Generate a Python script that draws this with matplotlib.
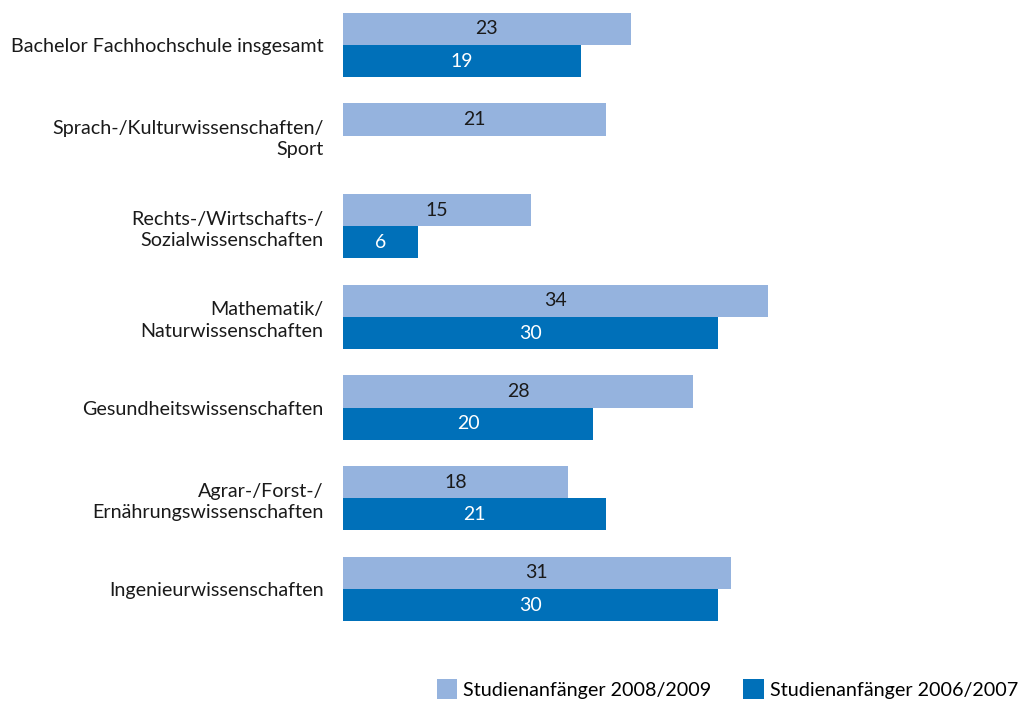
import matplotlib
matplotlib.use("Agg")
import matplotlib.pyplot as plt
import numpy as np

# Daten
categories = [
    "Bachelor Fachhochschule insgesamt",
    "Sprach-/Kulturwissenschaften/\nSport",
    "Rechts-/Wirtschafts-/\nSozialwissenschaften",
    "Mathematik/\nNaturwissenschaften",
    "Gesundheitswissenschaften",
    "Agrar-/Forst-/\nErnährungswissenschaften",
    "Ingenieurwissenschaften",
]
values_2008 = [23, 21, 15, 34, 28, 18, 31]
values_2006 = [19, np.nan, 6, 30, 20, 21, 30]
labels = ["Studienanfänger 2008/2009", "Studienanfänger 2006/2007"]

light = "#95b3de"
dark = "#0070b9"

plt.rcParams['font.family'] = ['Lato', 'DejaVu Sans']

fig = plt.figure(figsize=(10.18, 7.03), dpi=100)
ax = fig.add_axes([343 / 1018, 1 - 640 / 703, 1 - 343 / 1018, 640 / 703])

y = np.arange(len(categories))
h = 0.355

ax.barh(y - h / 2, values_2008, height=h, color=light, label=labels[0])
ax.barh(y + h / 2, values_2006, height=h, color=dark, label=labels[1])

for i, (a, b) in enumerate(zip(values_2008, values_2006)):
    ax.text(a / 2, i - h / 2, str(a), ha='center', va='center', fontsize=14, color='#1a1a1a')
    if not np.isnan(b):
        ax.text(b / 2, i + h / 2, str(int(b)), ha='center', va='center', fontsize=14, color='white')

ax.set_xlim(0, 54)
ax.set_ylim(6.563, -0.496)
ax.set_yticks(y)
ax.set_yticklabels(categories, fontsize=14.2, linespacing=1.3, color='#1a1a1a')
ax.set_xticks([])
ax.tick_params(axis='y', length=0, pad=14)
for s in ax.spines.values():
    s.set_visible(False)

fig.legend(loc='lower right', bbox_to_anchor=(1.0, 0.006), ncol=2, frameon=False,
           fontsize=14.2, handlelength=1.05, handleheight=1.15, handletextpad=0.3,
           columnspacing=1.6, borderaxespad=0.0, borderpad=0.0)

fig.savefig("out.png", dpi=100)
